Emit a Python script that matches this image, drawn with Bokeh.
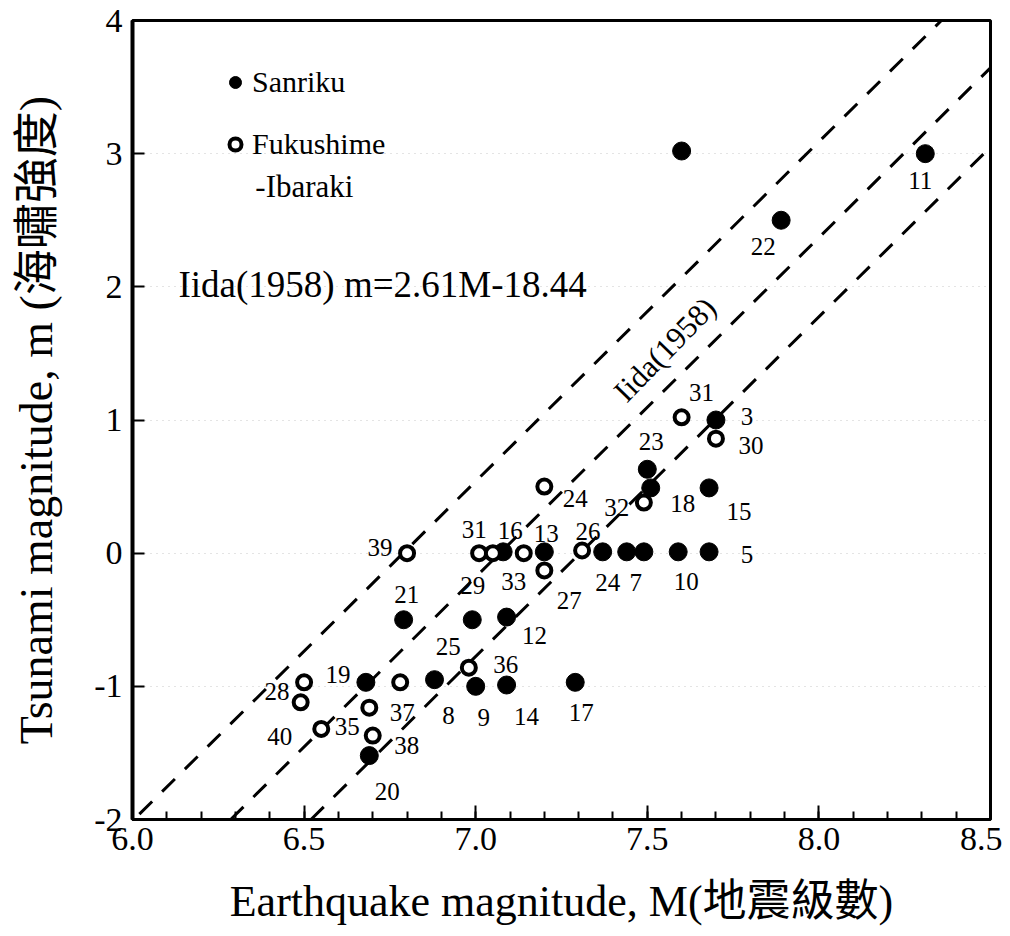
from bokeh.plotting import figure
from bokeh.models import (ColumnDataSource, LabelSet, Label, Legend, LegendItem,
                          FixedTicker, PrintfTickFormatter, Range1d)
from bokeh.embed import file_html
from bokeh.resources import INLINE

# ---------------- data ----------------
# Sanriku (filled circles)
san_M = [7.60, 8.31, 7.89, 7.70, 7.50, 7.51, 7.68, 7.68, 7.59, 7.49, 7.44, 7.37,
         7.20, 7.08, 6.79, 6.99, 7.09, 6.68, 6.88, 7.00, 7.09, 7.29, 6.69]
san_m = [3.02, 3.00, 2.50, 1.00, 0.63, 0.49, 0.49, 0.01, 0.01, 0.01, 0.01, 0.01,
         0.01, 0.01, -0.50, -0.50, -0.48, -0.97, -0.95, -1.00, -0.99, -0.97, -1.52]
san_lab = ["", "11", "22", "3", "23", "18", "15", "5", "10", "7", "", "24",
           "13", "16", "21", "25", "12", "19", "8", "9", "14", "17", "20"]

# Fukushime-Ibaraki (open circles)
fuk_M = [6.80, 7.01, 7.05, 7.14, 7.20, 7.31, 7.20, 7.49, 7.60, 7.70, 6.98, 6.78,
         6.50, 6.49, 6.55, 6.69, 6.70]
fuk_m = [0.00, 0.00, 0.00, 0.00, -0.13, 0.02, 0.50, 0.38, 1.02, 0.86, -0.86, -0.97,
         -0.97, -1.12, -1.32, -1.16, -1.37]
fuk_lab = ["39", "31", "29", "33", "27", "26", "24", "32", "31", "30", "36", "37",
           "28", "40", "35", "", "38"]

# Iida (1958) lines (end points)
line_M = [[6.02, 8.357], [6.286, 8.50], [6.52, 8.50]]
line_m = [[-1.96, 4.00], [-2.00, 3.645], [-2.00, 3.05]]

x_ticks = [6.0, 6.5, 7.0, 7.5, 8.0, 8.5]
y_ticks = [-2, -1, 0, 1, 2, 3, 4]

# ---------------- label offsets (pixels, right / down) ----------------
san_dx = [0, -5, -18, 31, 4, 32, 30, 38, 8, -8, 0, 5, 2, 7, 3, -24, 28, -28, 14, 8, 20, 6, 18]
san_dy = [0, 27, 26, -4, -28, 16, 24, 3, 30, 31, 0, 31, -18, -21, -25, 27, 18, -8, 36, 31, 31, 30, 36]
fuk_dx = [-27, -5, -20, -10, 25, 6, 31, -27, 20, 35, 37, 2, -27, -21, 26, 0, 34]
fuk_dy = [-6, -24, 32, 28, 30, -19, 12, 5, -25, 7, -3, 30, 9, 34, -2, 0, 10]

SERIF = "Liberation Serif"
SERIF_CJK = "Liberation Serif, Noto Sans CJK TC"

p = figure(width=1002, height=928, output_backend="svg", toolbar_location=None,
           x_range=Range1d(6.0, 8.5), y_range=Range1d(-2, 4),
           min_border_left=132, min_border_right=12, min_border_top=20,
           min_border_bottom=105, background_fill_color="white",
           border_fill_color="white")

# frame
p.outline_line_color = "black"
p.outline_line_width = 3
p.xgrid.grid_line_color = None
p.ygrid.grid_line_color = "#c8c8c8"
p.ygrid.grid_line_dash = "1 5"
p.ygrid.grid_line_width = 1

# axes
p.xaxis.ticker = FixedTicker(ticks=x_ticks,
                             minor_ticks=[round(6.0 + 0.1 * i, 1) for i in range(26)])
p.yaxis.ticker = FixedTicker(ticks=y_ticks)
p.xaxis.formatter = PrintfTickFormatter(format="%.1f")
p.yaxis.formatter = PrintfTickFormatter(format="%d")

for ax in (p.xaxis, p.yaxis):
    ax.major_label_text_font = SERIF
    ax.major_label_text_font_size = "34px"
    ax.major_label_text_color = "black"
    ax.axis_label_text_font = SERIF_CJK
    ax.axis_label_text_font_style = "normal"
    ax.axis_label_text_color = "black"
    ax.axis_line_color = "black"
    ax.major_tick_out = 0
    ax.major_tick_line_color = "black"
    ax.major_tick_line_width = 2

p.xaxis.axis_label = "Earthquake magnitude, M(地震級數)"
p.yaxis.axis_label = "Tsunami magnitude, m (海嘯強度)"
p.xaxis.axis_label_text_font_size = "44px"
p.yaxis.axis_label_text_font_size = "46px"
p.xaxis.axis_line_width = 3
p.yaxis.axis_line_width = 4
p.xaxis.major_tick_in = 14
p.xaxis.minor_tick_in = 8
p.xaxis.minor_tick_out = 0
p.xaxis.minor_tick_line_color = "black"
p.xaxis.minor_tick_line_width = 2
p.yaxis.major_tick_in = 12
p.yaxis.minor_tick_line_color = None
p.xaxis.major_label_standoff = 8
p.yaxis.major_label_standoff = 10
p.xaxis.axis_label_standoff = 24
p.yaxis.axis_label_standoff = 29

# Iida lines
p.multi_line(xs=line_M, ys=line_m, line_color="black", line_width=3,
             line_dash="18 14")

# points
san_src = ColumnDataSource(dict(x=san_M, y=san_m, text=san_lab,
                                dx=san_dx, dy=[-d for d in san_dy]))
fuk_src = ColumnDataSource(dict(x=fuk_M, y=fuk_m, text=fuk_lab,
                                dx=fuk_dx, dy=[-d for d in fuk_dy]))

r_san = p.scatter("x", "y", source=san_src, size=18, marker="circle",
                  fill_color="black", line_color="black", line_width=1)
r_fuk = p.scatter("x", "y", source=fuk_src, size=14, marker="circle",
                  fill_color="white", line_color="black", line_width=4)

for src in (san_src, fuk_src):
    p.add_layout(LabelSet(x="x", y="y", text="text", source=src,
                          x_offset="dx", y_offset="dy",
                          text_font=SERIF, text_font_size="25px",
                          text_align="center", text_baseline="middle",
                          text_color="black"))

# legend
legend = Legend(items=[LegendItem(label="Sanriku", renderers=[r_san]),
                       LegendItem(label="Fukushime", renderers=[r_fuk])],
                location=(88, 658), orientation="vertical",
                label_text_font=SERIF, label_text_font_size="30px",
                label_text_color="black",
                glyph_width=30, glyph_height=30, label_standoff=2,
                spacing=28, padding=0, margin=0,
                border_line_alpha=0, background_fill_alpha=0)
p.add_layout(legend, "center")
p.add_layout(Label(x=6.358, y=2.752, text="-Ibaraki", text_font=SERIF,
                   text_font_size="31px", text_baseline="middle",
                   text_align="left", text_color="black"))

# annotations
p.add_layout(Label(x=6.134, y=2.02, text="Iida(1958) m=2.61M-18.44",
                   text_font=SERIF, text_font_size="37px", text_color="black",
                   text_baseline="middle", text_align="left"))
p.add_layout(Label(x=7.551, y=1.53, text="Iida(1958)", angle=0.80,
                   text_font=SERIF, text_font_size="31px", text_color="black",
                   text_baseline="middle", text_align="center"))

open("out.html", "w").write(file_html(p, INLINE))
